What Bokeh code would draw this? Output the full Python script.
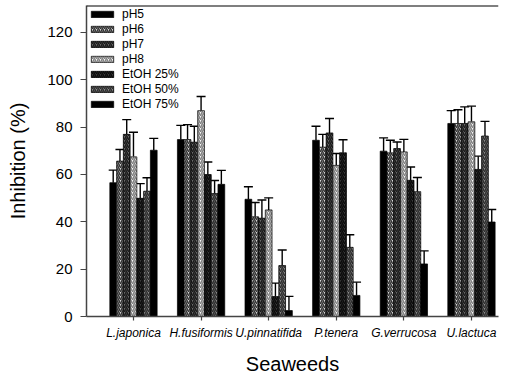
from bokeh.plotting import figure
from bokeh.models import (ColumnDataSource, Whisker, TeeHead, FixedTicker, Range1d,
                          Legend, LegendItem, Span)
from bokeh.embed import file_html
from bokeh.resources import INLINE

categories = ["L.japonica", "H.fusiformis", "U.pinnatifida", "P.tenera", "G.verrucosa", "U.lactuca"]
series = ["pH5", "pH6", "pH7", "pH8", "EtOH 25%", "EtOH 50%", "EtOH 75%"]

ph5 = [56.5, 74.7, 49.5, 74.4, 69.8, 81.5]
ph6 = [65.6, 74.7, 42.1, 71.5, 69.1, 81.5]
ph7 = [76.9, 73.6, 41.5, 77.5, 70.9, 81.5]
ph8 = [67.4, 86.9, 45.0, 63.8, 69.5, 82.2]
etoh25 = [49.9, 59.9, 8.4, 69.1, 57.5, 62.1]
etoh50 = [52.9, 51.9, 21.5, 29.2, 52.7, 76.2]
etoh75 = [70.2, 55.8, 2.5, 8.9, 22.2, 39.9]

ph5_err = [5.3, 6.0, 5.3, 5.9, 5.6, 5.4]
ph6_err = [4.9, 6.3, 6.0, 5.4, 5.3, 5.8]
ph7_err = [6.2, 6.7, 7.7, 6.1, 2.8, 7.0]
ph8_err = [10.4, 6.0, 5.1, 5.0, 5.3, 6.6]
etoh25_err = [6.2, 5.3, 5.7, 5.5, 5.6, 5.6]
etoh50_err = [5.7, 5.5, 6.6, 5.3, 6.0, 6.2]
etoh75_err = [5.0, 5.9, 6.0, 5.6, 5.5, 5.3]

values = [ph5, ph6, ph7, ph8, etoh25, etoh50, etoh75]
errors = [ph5_err, ph6_err, ph7_err, ph8_err, etoh25_err, etoh50_err, etoh75_err]

fills = ["#000000", "#d4d4d4", "#6a6a6a", "#f6f6f6", "#3a3a3a", "#8a8a8a", "#000000"]
hatches = [None, "#333333", "#1a1a1a", "#808080", "#0a0a0a", "#2e2e2e", None]

y_ticks = [0, 20, 40, 60, 80, 100, 120]

FONT = "Liberation Sans"
bar_w = 0.1
Y_TOP = 131.3

p = figure(width=517, height=377, output_backend="svg", toolbar_location=None,
           x_range=Range1d(0.305, 6.40), y_range=Range1d(0, Y_TOP),
           min_border_left=86, min_border_right=19, min_border_top=5, min_border_bottom=59)
p.outline_line_color = None
p.grid.grid_line_color = None
p.background_fill_color = "white"
p.border_fill_color = "white"

items = []
xs_base = list(range(1, len(categories) + 1))
for i, (name, vals, errs) in enumerate(zip(series, values, errors)):
    off = (i - 3) * bar_w
    xs = [x + off for x in xs_base]
    tops = [v + e for v, e in zip(vals, errs)]
    src = ColumnDataSource(dict(x=xs, top=vals, upper=tops))
    kw = dict(x="x", top="top", bottom=0, width=bar_w, source=src,
              fill_color=fills[i], line_color="black", line_width=0.7)
    if hatches[i] is not None:
        kw.update(hatch_pattern="/", hatch_color=hatches[i], hatch_scale=4, hatch_weight=1.5)
    r = p.vbar(**kw)
    items.append(LegendItem(label=name, renderers=[r]))
    w = Whisker(base="x", lower="top", upper="upper", source=src,
                line_color="black", line_width=1.4,
                upper_head=TeeHead(size=9, line_color="black", line_width=1.4),
                lower_head=None)
    p.add_layout(w)

p.add_layout(Span(location=Y_TOP, dimension="width", line_color="black", line_width=2))

legend = Legend(items=items, location="top_left", label_text_font=FONT,
                label_text_font_size="12px", label_text_color="black",
                glyph_width=28, glyph_height=8,
                label_height=14, spacing=1, padding=3, margin=2,
                border_line_color=None, background_fill_alpha=0, label_standoff=6)
p.add_layout(legend)

p.xaxis.ticker = FixedTicker(ticks=xs_base)
p.xaxis.major_label_overrides = {i + 1: c for i, c in enumerate(categories)}
p.xaxis.major_label_text_font = FONT
p.xaxis.major_label_text_font_style = "italic"
p.xaxis.major_label_text_font_size = "12px"
p.xaxis.major_label_text_color = "black"
p.xaxis.major_label_standoff = 5
p.xaxis.axis_label = "Seaweeds"
p.xaxis.axis_label_text_font = FONT
p.xaxis.axis_label_text_font_style = "normal"
p.xaxis.axis_label_text_font_size = "20px"
p.xaxis.axis_label_text_color = "black"
p.xaxis.axis_label_standoff = 10
p.xaxis.major_tick_out = 4
p.xaxis.major_tick_in = 0
p.xaxis.minor_tick_line_color = None

p.yaxis.ticker = FixedTicker(ticks=y_ticks)
p.yaxis.major_label_text_font = FONT
p.yaxis.major_label_text_font_size = "15px"
p.yaxis.major_label_text_color = "black"
p.yaxis.major_label_standoff = 8
p.yaxis.axis_label = "Inhibition (%)"
p.yaxis.axis_label_text_font = FONT
p.yaxis.axis_label_text_font_style = "normal"
p.yaxis.axis_label_text_font_size = "20px"
p.yaxis.axis_label_text_color = "black"
p.yaxis.axis_label_standoff = 15
p.yaxis.major_tick_out = 6
p.yaxis.major_tick_in = 0
p.yaxis.minor_tick_line_color = None

for ax in (p.xaxis, p.yaxis):
    ax.axis_line_color = "#444444"
    ax.axis_line_width = 1.5
    ax.major_tick_line_color = "#444444"
    ax.major_tick_line_width = 1.2

open("out.html", "w").write(file_html(p, INLINE))
